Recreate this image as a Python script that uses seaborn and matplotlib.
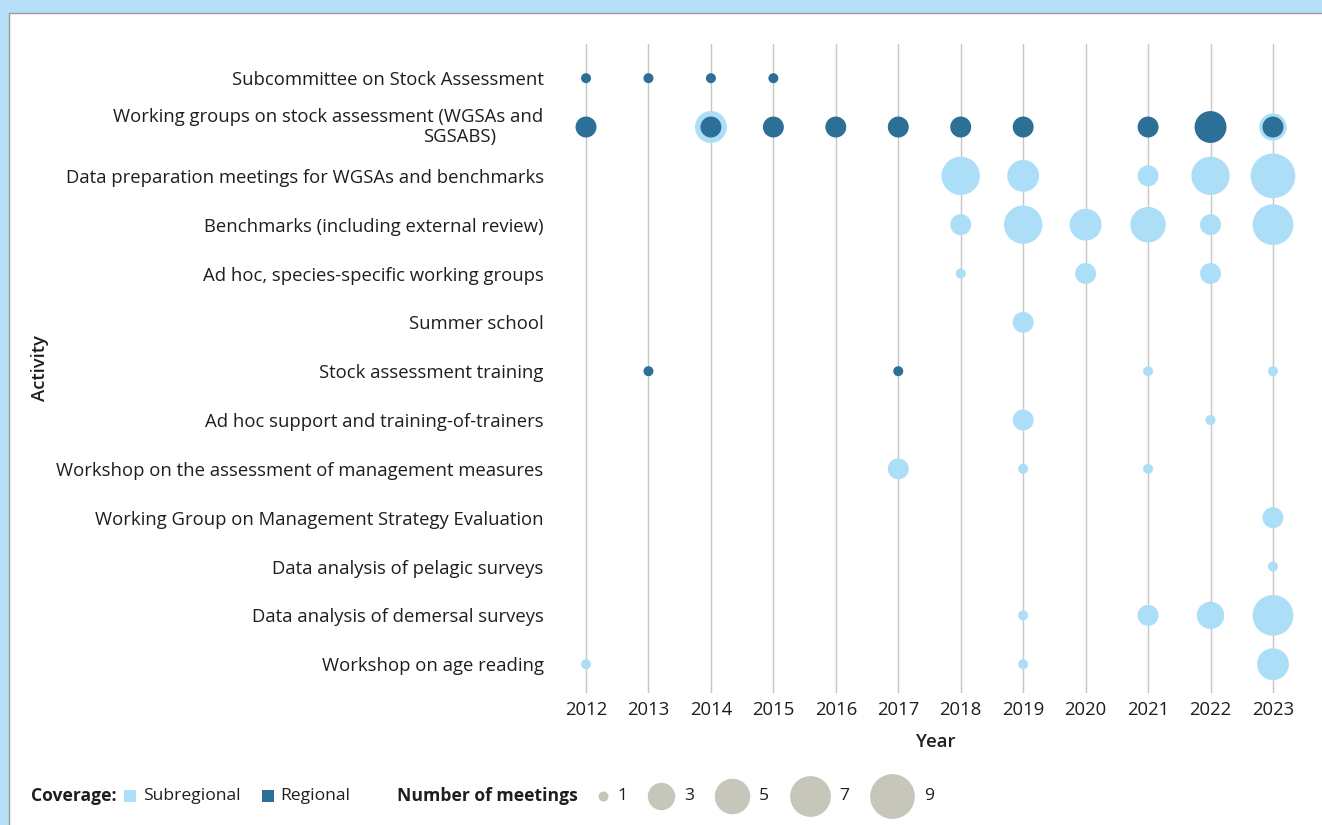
import numpy as np
import pandas as pd
import matplotlib
matplotlib.use("Agg")
import matplotlib.pyplot as plt
from matplotlib.patches import Rectangle
from matplotlib.lines import Line2D
import seaborn as sns

# ---------------------------------------------------------------- data
years = list(range(2012, 2024))

activities = [
    "Subcommittee on Stock Assessment",
    "Working groups on stock assessment (WGSAs and SGSABS)",
    "Data preparation meetings for WGSAs and benchmarks",
    "Benchmarks (including external review)",
    "Ad hoc, species-specific working groups",
    "Summer school",
    "Stock assessment training",
    "Ad hoc support and training-of-trainers",
    "Workshop on the assessment of management measures",
    "Working Group on Management Strategy Evaluation",
    "Data analysis of pelagic surveys",
    "Data analysis of demersal surveys",
    "Workshop on age reading",
]

# number of meetings per activity (rows) and year 2012..2023 (columns)
regional_meetings = [
    [1, 1, 1, 1, 0, 0, 0, 0, 0, 0, 0, 0],
    [2, 0, 2, 2, 2, 2, 2, 2, 0, 2, 4, 2],
    [0, 0, 0, 0, 0, 0, 0, 0, 0, 0, 0, 0],
    [0, 0, 0, 0, 0, 0, 0, 0, 0, 0, 0, 0],
    [0, 0, 0, 0, 0, 0, 0, 0, 0, 0, 0, 0],
    [0, 0, 0, 0, 0, 0, 0, 0, 0, 0, 0, 0],
    [0, 1, 0, 0, 0, 1, 0, 0, 0, 0, 0, 0],
    [0, 0, 0, 0, 0, 0, 0, 0, 0, 0, 0, 0],
    [0, 0, 0, 0, 0, 0, 0, 0, 0, 0, 0, 0],
    [0, 0, 0, 0, 0, 0, 0, 0, 0, 0, 0, 0],
    [0, 0, 0, 0, 0, 0, 0, 0, 0, 0, 0, 0],
    [0, 0, 0, 0, 0, 0, 0, 0, 0, 0, 0, 0],
    [0, 0, 0, 0, 0, 0, 0, 0, 0, 0, 0, 0],
]

subregional_meetings = [
    [0, 0, 0, 0, 0, 0, 0, 0, 0, 0, 0, 0],
    [0, 0, 4, 0, 0, 0, 0, 0, 0, 0, 0, 3],
    [0, 0, 0, 0, 0, 0, 6, 4, 0, 2, 6, 9],
    [0, 0, 0, 0, 0, 0, 2, 6, 4, 5, 2, 7],
    [0, 0, 0, 0, 0, 0, 1, 0, 2, 0, 2, 0],
    [0, 0, 0, 0, 0, 0, 0, 2, 0, 0, 0, 0],
    [0, 0, 0, 0, 0, 0, 0, 0, 0, 1, 0, 1],
    [0, 0, 0, 0, 0, 0, 0, 2, 0, 0, 1, 0],
    [0, 0, 0, 0, 0, 2, 0, 1, 0, 1, 0, 0],
    [0, 0, 0, 0, 0, 0, 0, 0, 0, 0, 0, 2],
    [0, 0, 0, 0, 0, 0, 0, 0, 0, 0, 0, 1],
    [0, 0, 0, 0, 0, 0, 0, 1, 0, 2, 3, 7],
    [1, 0, 0, 0, 0, 0, 0, 1, 0, 0, 0, 4],
]

coverage_levels = ["Subregional", "Regional"]
size_legend_values = [1, 3, 5, 7, 9]

# ---------------------------------------------------------------- style
DPI = 100
LIGHT = "#ADDEF8"
DARK = "#2C6F97"
KEY_GREY = "#C6C6BA"
FRAME = "#B5E0F7"
TEXT = "#1E1E1E"
GRID = "#C6C6C6"
FONT = ["Open Sans", "DejaVu Sans"]
FS = 13.3
KEY_FS = 12.6


def bubble_diameter_px(n):
    return 10.0 + 15.8 * np.log(n)


def bubble_area_pt2(n):
    return (bubble_diameter_px(n) * 72.0 / DPI) ** 2


# ---------------------------------------------------------------- long table
records = []
for coverage, table in zip(coverage_levels, [subregional_meetings, regional_meetings]):
    for row, counts in enumerate(table):
        for year, n in zip(years, counts):
            if n > 0:
                records.append({"Year": year, "row": row, "Coverage": coverage, "Meetings": n})
df = pd.DataFrame.from_records(records)

# ---------------------------------------------------------------- figure
sns.set_theme(style="white")
plt.rcParams["font.family"] = FONT
plt.rcParams["text.color"] = TEXT

W, H = 1322, 825
fig = plt.figure(figsize=(W / DPI, H / DPI), dpi=DPI, facecolor=FRAME)
fig.patches.append(Rectangle((9 / W, -0.05), 1.1, 1 - 13 / H + 0.05,
                             transform=fig.transFigure, facecolor="white",
                             edgecolor="#9C9C9C", linewidth=1.0, zorder=-10))

ax_left, ax_right, ax_top, ax_bottom = 554.8, 1304.2, 44.0, 693.0
ax = fig.add_axes([ax_left / W, 1 - ax_bottom / H,
                   (ax_right - ax_left) / W, (ax_bottom - ax_top) / H])
ax.set_facecolor("none")

sizes = {n: bubble_area_pt2(n) for n in range(1, 10)}
sns.scatterplot(data=df, x="Year", y="row", hue="Coverage", hue_order=coverage_levels,
                palette={"Subregional": LIGHT, "Regional": DARK},
                size="Meetings", sizes=sizes, linewidth=0, alpha=1,
                legend=False, ax=ax, zorder=3)

ax.set_xlim(2011.5, 2023.5)
ax.set_ylim(12.59, -0.70)
ax.set_xticks(years)
ax.set_xticklabels([str(y) for y in years], fontsize=FS, color=TEXT)
ax.set_yticks(range(len(activities)))
ylabels = list(activities)
ylabels[1] = ""
ax.set_yticklabels(ylabels, fontsize=FS, color=TEXT)
ax.tick_params(axis="both", length=0)
ax.tick_params(axis="x", pad=6)
ax.tick_params(axis="y", pad=8)
ax.grid(axis="x", color=GRID, linewidth=1.0)
ax.grid(axis="y", visible=False)
ax.set_axisbelow(True)
for s in ax.spines.values():
    s.set_visible(False)

# two-line label for the working-group row
ax.annotate("Working groups on stock assessment (WGSAs and", xy=(0, 1),
            xycoords=("axes fraction", "data"), xytext=(-8, 7.2),
            textcoords="offset points", ha="right", va="center", fontsize=FS, color=TEXT)
ax.annotate("SGSABS)", xy=(0, 1), xycoords=("axes fraction", "data"),
            xytext=(-42.5, -7.2), textcoords="offset points",
            ha="right", va="center", fontsize=FS, color=TEXT)

ax.set_xlabel("Year", fontsize=FS, color=TEXT, fontweight="semibold")
ax.set_ylabel("Activity", fontsize=FS, color=TEXT, fontweight="semibold")
ax.xaxis.set_label_coords((936 - ax_left) / (ax_right - ax_left), (ax_bottom - 733) / (ax_bottom - ax_top))
ax.yaxis.set_label_coords((49 - ax_left) / (ax_right - ax_left), 0.5)

# ---------------------------------------------------------------- key
ky = 1 - 796 / H


def fx(px):
    return px / W


fig.text(fx(31), ky, "Coverage:", fontsize=KEY_FS, fontweight="bold", ha="left", va="center")
for cx, col, lab, tx in [(130, LIGHT, "Subregional", 143), (268, DARK, "Regional", 280)]:
    fig.add_artist(Line2D([fx(cx)], [ky], marker="s", markersize=12 * 72 / DPI,
                          markerfacecolor=col, markeredgewidth=0, linestyle="none",
                          transform=fig.transFigure))
    fig.text(fx(tx), ky, lab, fontsize=KEY_FS, ha="left", va="center")

fig.text(fx(397), ky, "Number of meetings", fontsize=KEY_FS, fontweight="bold", ha="left", va="center")
cursor = 598.0
for n in size_legend_values:
    d = bubble_diameter_px(n)
    fig.add_artist(Line2D([fx(cursor + d / 2)], [ky], marker="o", markersize=d * 72 / DPI,
                          markerfacecolor=KEY_GREY, markeredgewidth=0, linestyle="none",
                          transform=fig.transFigure))
    label_x = cursor + d + 9.5
    fig.text(fx(label_x), ky, str(n), fontsize=KEY_FS, ha="left", va="center")
    cursor = label_x + 30.0

fig.savefig("out.png", dpi=DPI, facecolor=FRAME)
